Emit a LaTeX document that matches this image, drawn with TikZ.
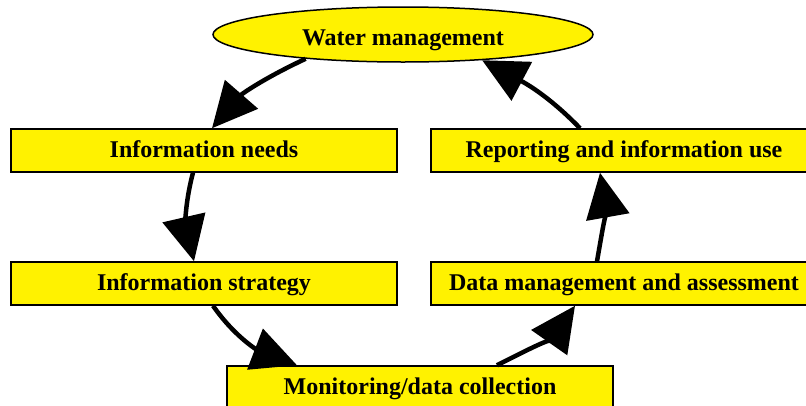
\documentclass[tikz,border=0pt]{standalone}
\usepackage{fontspec}
\setmainfont{Liberation Serif}
\usetikzlibrary{positioning,shapes.geometric,arrows.meta}

\begin{document}
\begin{tikzpicture}[x=1pt,y=1pt,on grid,
   stage/.style={draw,line width=1.5pt,fill=yellow,minimum width=386pt,minimum height=43pt,inner sep=0pt,text height=13pt,text depth=0pt,font=\fontsize{24}{28}\selectfont\bfseries},
   flow/.style={line width=4.5pt,-{Triangle[length=45pt,width=43pt]}}]
   \clip (0,0) rectangle (806,-405);
   \node[stage,ellipse,minimum width=380pt,minimum height=55pt,text height=21pt] (W) at (403,-34.5) {Water management};
   \node[stage] (N) [below left=116pt and 199pt of W] {Information needs};
   \node[stage] (S) [below=133pt of N] {Information strategy};
   \node[stage] (R) [right=420pt of N] {Reporting and information use};
   \node[stage] (D) [below=133pt of R] {Data management and assessment};
   \node[stage] (M) [below right=104pt and 216pt of S] {Monitoring/data collection};
    \path[flow]
    (W.194) edge[out=205,in=49] ([xshift=8pt]N.north)
    ([xshift=-11pt]N.south) edge[out=255,in=103] ([xshift=-10pt]S.north)
    ([xshift=9pt]S.south) edge[out=305,in=159] ([xshift=-123pt]M.north)
    ([xshift=77pt]M.north) edge[out=27,in=235] ([xshift=-49pt]D.south)
    ([xshift=-27pt]D.north) edge[out=80,in=280] ([xshift=-24pt]R.south)
    ([xshift=-44pt]R.north) edge[out=134,in=332] (W.342);
\end{tikzpicture}
\end{document}
